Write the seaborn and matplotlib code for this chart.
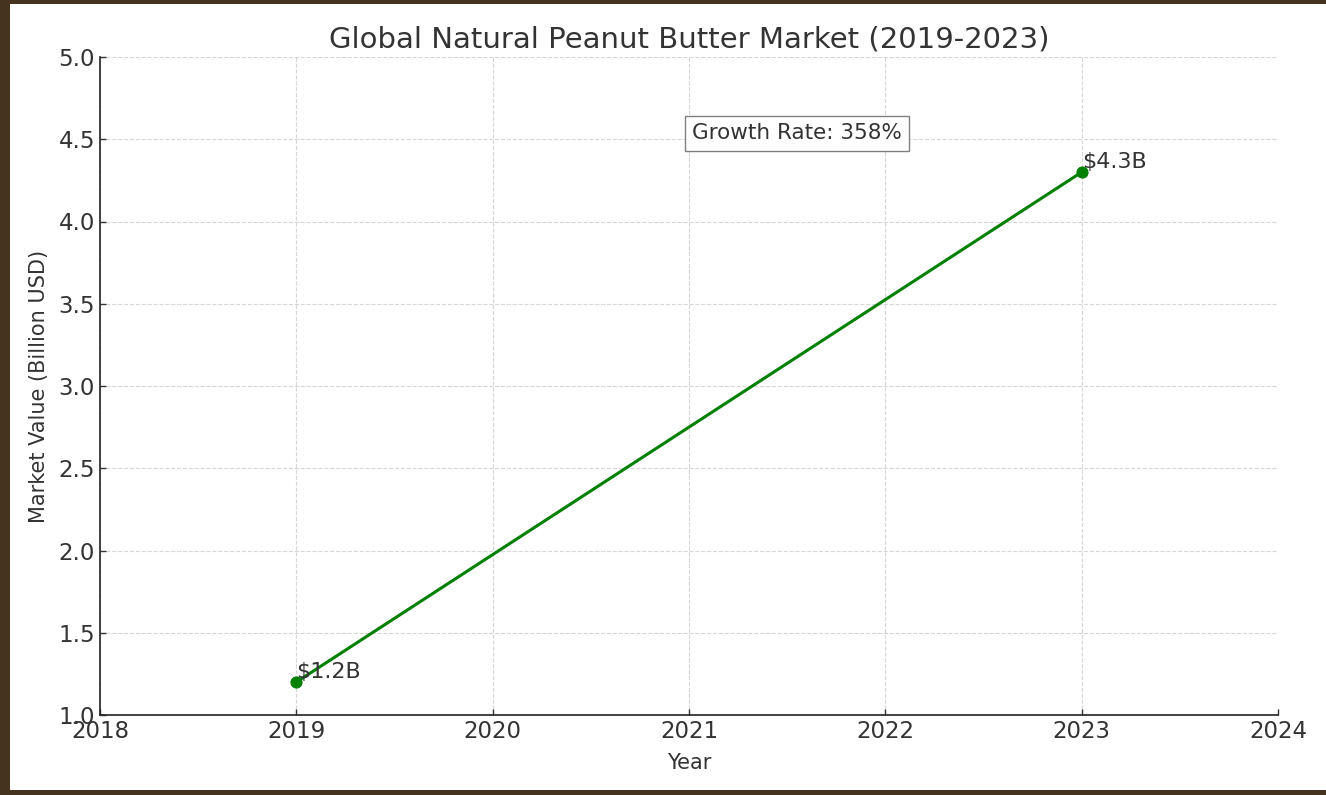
import matplotlib as mpl
import matplotlib.pyplot as plt
import seaborn as sns
import pandas as pd

mpl.use('agg')

years = [2019, 2023]
market_value = [1.2, 4.3]
value_labels = ['$1.2B', '$4.3B']
growth_label = 'Growth Rate: 358%'

sns.set_theme(style="ticks")
plt.rcParams['font.family'] = ['DejaVu Sans']
plt.rcParams['text.color'] = '#333333'
plt.rcParams['axes.labelcolor'] = '#333333'
plt.rcParams['xtick.color'] = '#333333'
plt.rcParams['ytick.color'] = '#333333'

df = pd.DataFrame({'Year': years, 'Value': market_value})

fig = plt.figure(figsize=(13.26, 7.95), dpi=100, facecolor='#45331d')
# white page inside the dark frame
fig.patches.append(mpl.patches.Rectangle((10 / 1326, 5 / 795), 1 - 10 / 1326, 1 - 9 / 795,
                                         transform=fig.transFigure, facecolor='white',
                                         edgecolor='none', zorder=-1))
ax = fig.add_axes([100 / 1326, 1 - 715 / 795, (1278 - 100) / 1326, (715 - 57) / 795])

sns.lineplot(x='Year', y='Value', data=df, color='green', linewidth=2.2,
             marker='o', markersize=8, markeredgecolor='green', ax=ax)

for x, y, lab in zip(years, market_value, value_labels):
    ax.text(x, y, lab, ha='left', va='bottom', fontsize=16)

ax.text(2021.55, 4.5, growth_label, ha='center', va='baseline', fontsize=15.5,
        bbox=dict(boxstyle='square,pad=0.35', facecolor='white', edgecolor='gray'))

ax.set_xlim(2018, 2024)
ax.set_ylim(1.0, 5.0)
ax.set_xticks(range(2018, 2025))
ax.set_yticks([1.0, 1.5, 2.0, 2.5, 3.0, 3.5, 4.0, 4.5, 5.0])
ax.set_yticklabels(['1.0', '1.5', '2.0', '2.5', '3.0', '3.5', '4.0', '4.5', '5.0'])
ax.tick_params(labelsize=16.5, length=4, width=1, direction='in')
ax.grid(True, linestyle='--', color='#cccccc', linewidth=0.8, alpha=0.8)
sns.despine(ax=ax)
for s in ['left', 'bottom']:
    ax.spines[s].set_color('#222222')
    ax.spines[s].set_linewidth(1.2)

ax.set_xlabel('Year', fontsize=15, labelpad=7)
ax.set_ylabel('Market Value (Billion USD)', fontsize=15, labelpad=7)
ax.set_title('Global Natural Peanut Butter Market (2019-2023)', fontsize=21, pad=7)

fig.savefig('out.png', dpi=100, facecolor=fig.get_facecolor())
